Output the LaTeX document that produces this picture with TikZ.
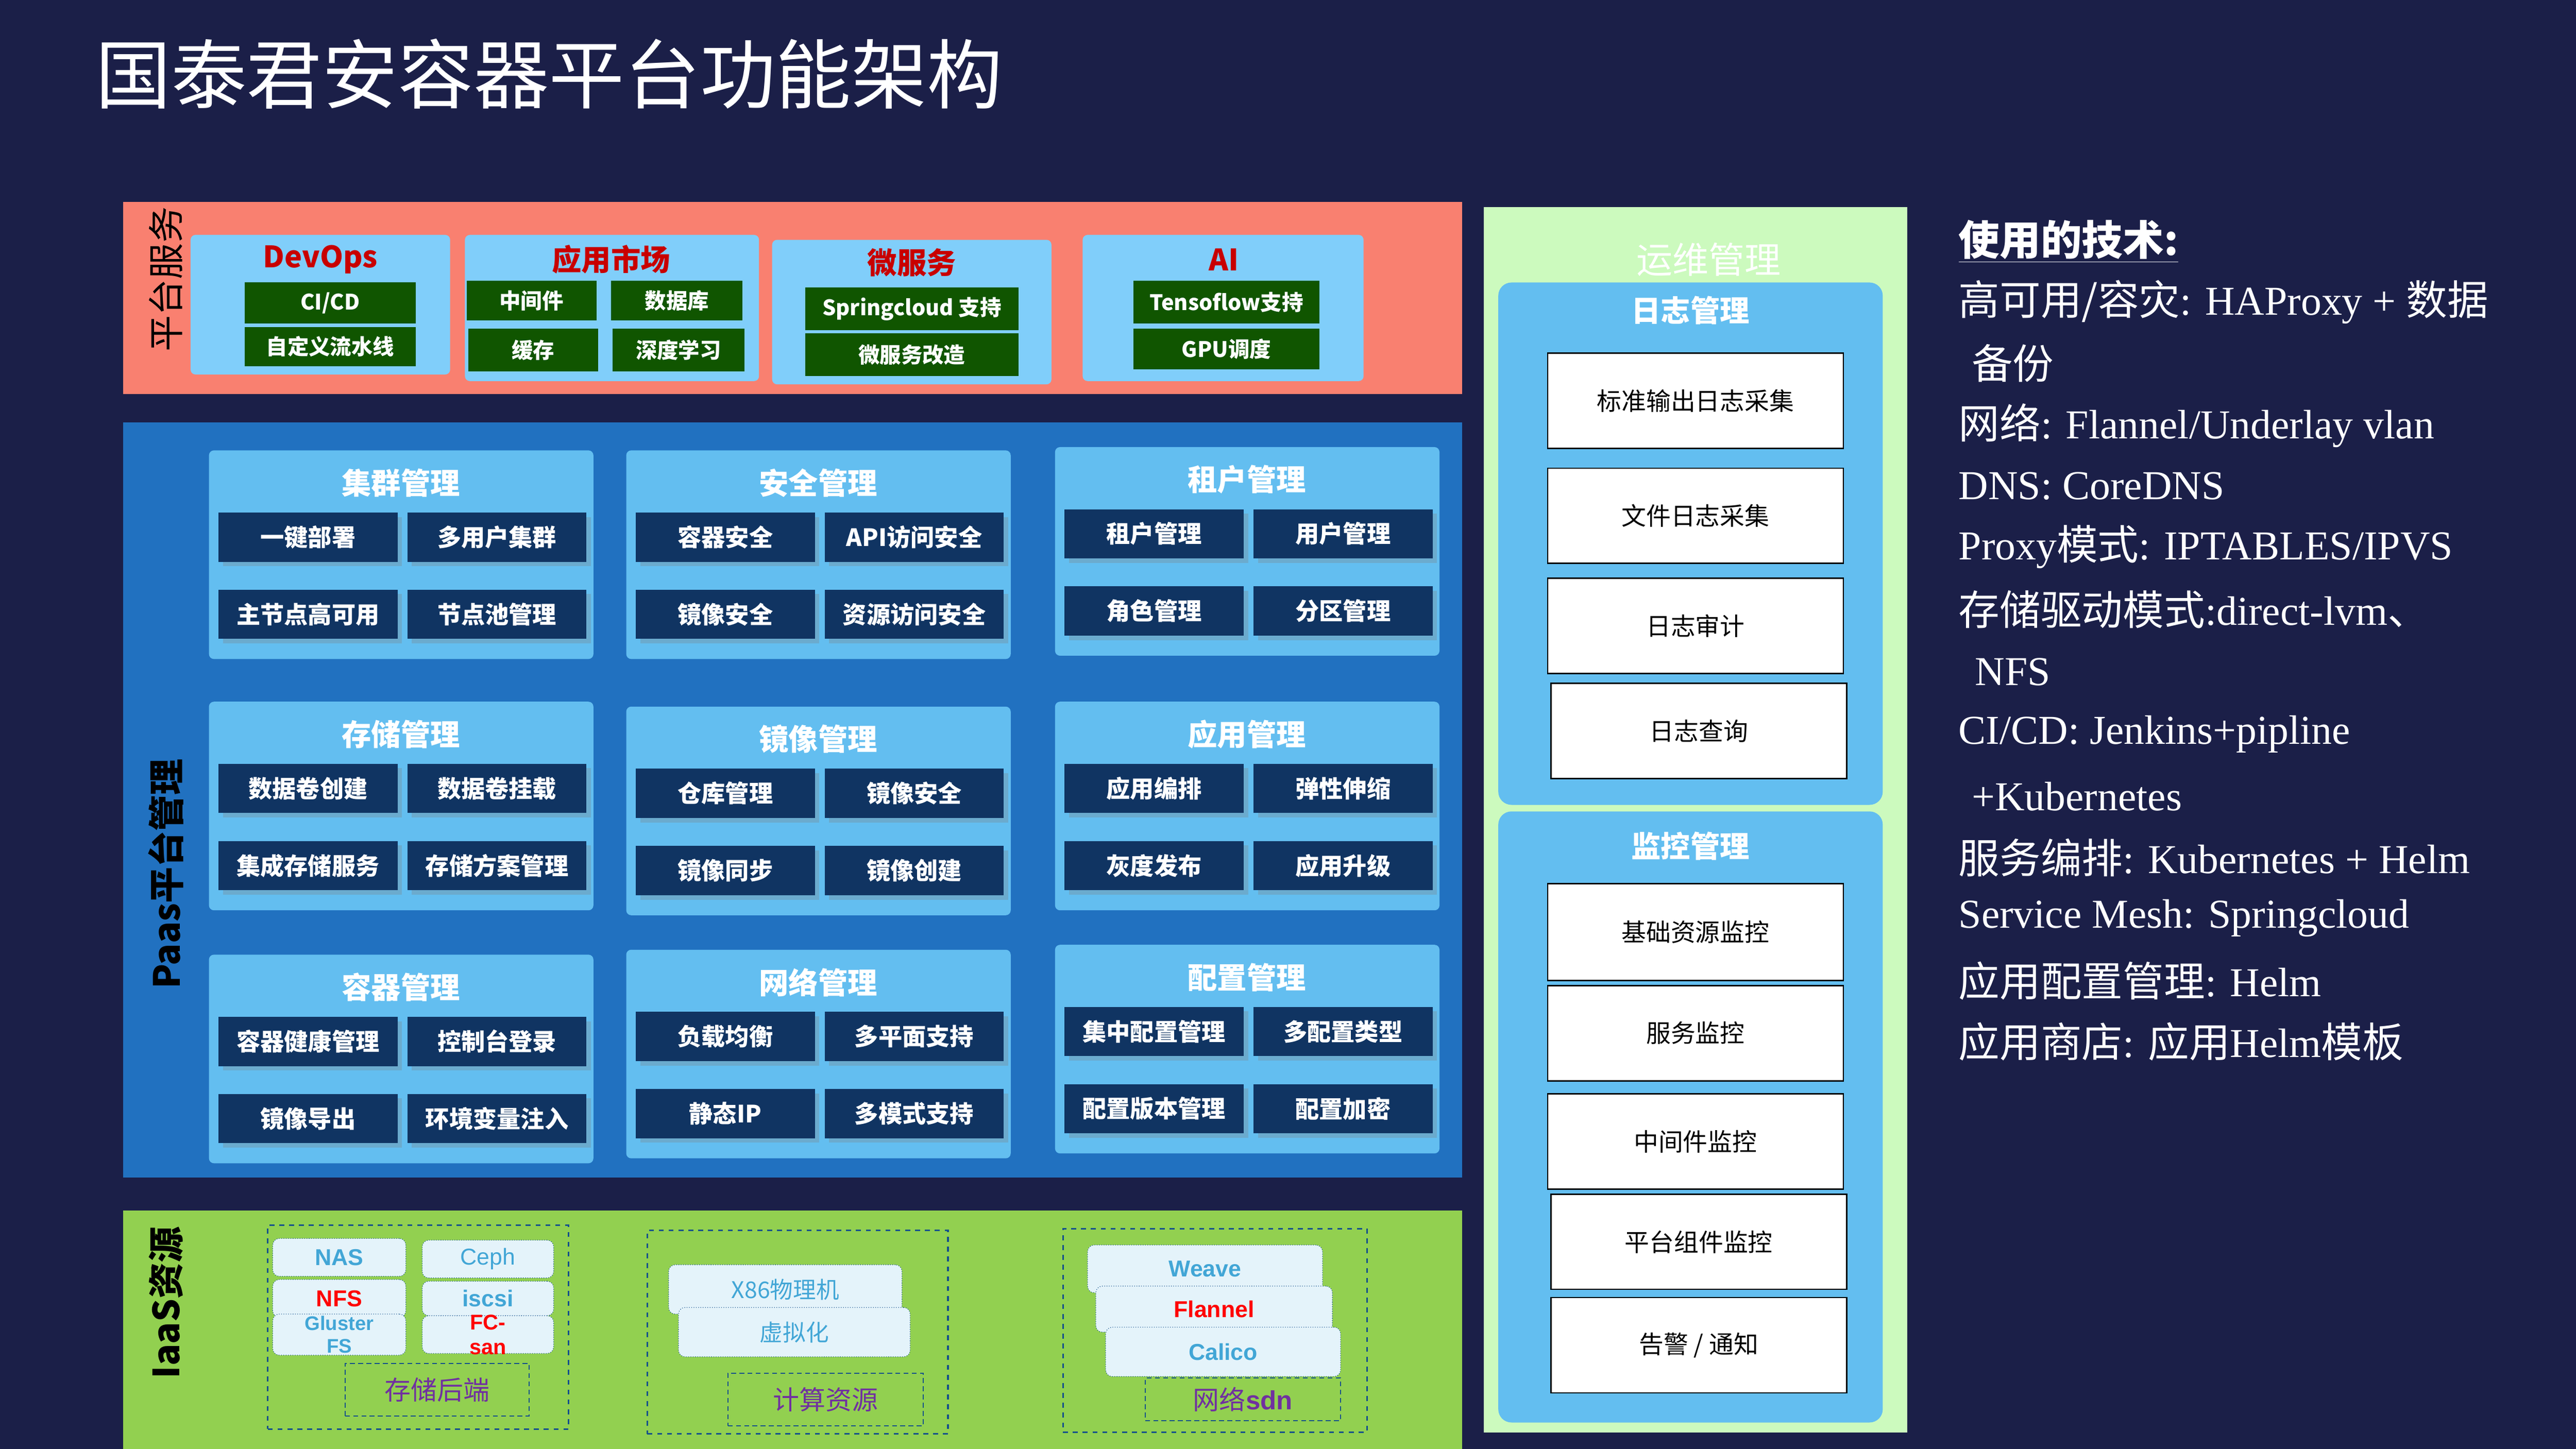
\documentclass[tikz,border=0pt]{standalone}
\usepackage{fontspec}
\setmainfont{Noto Sans CJK SC}
\newfontfamily\ser{Liberation Serif}
\newfontfamily\lsans{Liberation Sans}
\definecolor{bgc}{RGB}{27,31,72}
\definecolor{salm}{RGB}{249,128,112}
\definecolor{lblue}{RGB}{128,206,250}
\definecolor{dgreen}{RGB}{16,85,0}
\definecolor{paas}{RGB}{33,113,192}
\definecolor{pane}{RGB}{99,190,240}
\definecolor{navy}{RGB}{16,52,98}
\definecolor{iaas}{RGB}{146,208,80}
\definecolor{pale}{RGB}{228,243,250}
\definecolor{cyan2}{RGB}{66,166,214}
\definecolor{purp}{RGB}{112,48,160}
\definecolor{dred}{RGB}{200,0,0}
\definecolor{opsg}{RGB}{204,250,190}
\definecolor{dash}{RGB}{20,80,140}
\tikzset{
 gbtn/.style={fill=dgreen,text=white,font=\bfseries\fontsize{13}{15}\selectfont,inner sep=0},
 nbtn/.style={fill=navy,text=white,font=\bfseries\fontsize{14.5}{17}\selectfont,inner sep=0,drop shadow={opacity=0.3}},
 pbox/.style={fill=pale,rounded corners=4pt,inner sep=0,draw=dash,densely dotted,line width=0.4pt},
 wbox/.style={fill=white,draw=black,line width=0.8pt,font=\fontsize{15}{18}\selectfont,inner sep=0},
 dbox/.style={draw=dash,dashed,line width=1pt},
 rtxt/.style={anchor=west,text=white,font=\fontsize{25}{30}\selectfont,inner sep=0},
}
\usetikzlibrary{shadows}
\newcommand{\bx}[6]{\node[#1,minimum width=#4-#2,minimum height=#5-#3] (#6) at ({(#2+#4)/2},{(#3+#5)/2}) {};}
\newcommand{\bt}[7]{\node[#1,minimum width=#4-#2,minimum height=#5-#3] (#6) at ({(#2+#4)/2},{(#3+#5)/2}) {#7};}
\newcommand{\pan}[5]{% x, y, title, b1..b4 name prefix
}
\begin{document}
\begin{tikzpicture}[x=1pt,y=-1pt]
\useasboundingbox[fill=bgc] (0,0) rectangle (1568,882);
\node[anchor=west,text=white,font=\fontsize{46}{50}\selectfont,inner sep=0] (title) at (58,45) {国泰君安容器平台功能架构};
% platform services
\bx{fill=salm,inner sep=0}{75}{123}{890}{240}{ps}
\node[rotate=90,font=\fontsize{22}{24}\selectfont,inner sep=0] (psl) at (101,170) {平台服务};
\bx{fill=lblue,rounded corners=3pt,inner sep=0}{116}{143}{274}{228}{p1}
\bx{fill=lblue,rounded corners=3pt,inner sep=0}{283}{143}{462}{232}{p2}
\bx{fill=lblue,rounded corners=3pt,inner sep=0}{470}{146}{640}{234}{p3}
\bx{fill=lblue,rounded corners=3pt,inner sep=0}{659}{143}{830}{232}{p4}
\tikzset{htl/.style={text=dred,font=\bfseries\fontsize{18}{20}\selectfont,inner sep=0}}
\node[htl] (t1) at (195,158) {DevOps};
\node[htl] (t2) at (372,158) {应用市场};
\node[htl] (t3) at (555,160) {微服务};
\node[htl] (t4) at (745,158) {AI};
\bt{gbtn}{149}{172}{253}{197}{g1}{CI/CD}
\bt{gbtn}{149}{199}{253}{223}{g2}{自定义流水线}
\bt{gbtn}{284}{171}{363}{195}{g3}{中间件}
\bt{gbtn}{372}{171}{452}{195}{g4}{数据库}
\bt{gbtn}{285}{200}{364}{226}{g5}{缓存}
\bt{gbtn}{373}{200}{453}{226}{g6}{深度学习}
\bt{gbtn}{490}{175}{620}{201}{g7}{Springcloud 支持}
\bt{gbtn}{490}{203}{620}{229}{g8}{微服务改造}
\bt{gbtn}{690}{171}{803}{197}{g9}{Tensoflow支持}
\bt{gbtn}{690}{200}{803}{225}{g10}{GPU调度}
% PaaS
\bx{fill=paas,inner sep=0}{75}{257}{890}{717}{paasb}
\node[rotate=90,font=\bfseries\fontsize{22}{24}\selectfont,inner sep=0] (pal) at (101,532) {Paas平台管理};
\tikzset{ptl/.style={text=white,font=\bfseries\fontsize{18}{20}\selectfont,inner sep=0}}
\foreach \nm/\x/\y/\t/\a/\b/\c/\d in {
 a/127/274/集群管理/一键部署/多用户集群/主节点高可用/节点池管理,
 b/381/274/安全管理/容器安全/API访问安全/镜像安全/资源访问安全,
 c/642/272/租户管理/租户管理/用户管理/角色管理/分区管理,
 d/127/427/存储管理/数据卷创建/数据卷挂载/集成存储服务/存储方案管理,
 e/381/430/镜像管理/仓库管理/镜像安全/镜像同步/镜像创建,
 f/642/427/应用管理/应用编排/弹性伸缩/灰度发布/应用升级,
 g/127/581/容器管理/容器健康管理/控制台登录/镜像导出/环境变量注入,
 h/381/578/网络管理/负载均衡/多平面支持/静态IP/多模式支持,
 i/642/575/配置管理/集中配置管理/多配置类型/配置版本管理/配置加密}{
 \node[fill=pane,rounded corners=3pt,minimum width=234,minimum height=127,inner sep=0,anchor=north west] (pn\nm) at (\x,\y) {};
 \node[ptl] (pt\nm) at (\x+117,\y+20) {\t};
 \node[nbtn,minimum width=109,minimum height=30] (q1\nm) at (\x+60.5,\y+53) {\a};
 \node[nbtn,minimum width=109,minimum height=30] (q2\nm) at (\x+175.5,\y+53) {\b};
 \node[nbtn,minimum width=109,minimum height=30] (q3\nm) at (\x+60.5,\y+100) {\c};
 \node[nbtn,minimum width=109,minimum height=30] (q4\nm) at (\x+175.5,\y+100) {\d};
}
% IaaS
\bx{fill=iaas,inner sep=0}{75}{737}{890}{882}{iaasb}
\node[rotate=90,font=\bfseries\fontsize{22}{24}\selectfont,inner sep=0] (ial) at (101,793) {IaaS资源};
\bx{dbox}{163}{746}{346}{870}{d1}
\bx{dbox}{394}{749}{577}{873}{d2}
\bx{dbox}{647}{748}{832}{872}{d3}
\tikzset{ct/.style={text=cyan2,font=\lsans\bfseries\fontsize{14}{14}\selectfont},
 rt/.style={text=red,font=\lsans\bfseries\fontsize{14}{14}\selectfont},
 lt/.style={text=cyan2,font=\fontsize{14}{14}\selectfont}}
\bt{pbox}{166}{754}{247}{777}{s1}{\tikzset{}\textcolor{cyan2}{\lsans\bfseries\fontsize{14}{14}\selectfont NAS}}
\bt{pbox}{257}{755}{337}{778}{s2}{\textcolor{cyan2}{\lsans\fontsize{14}{14}\selectfont Ceph}}
\bt{pbox}{166}{779}{247}{802}{s3}{\textcolor{red}{\lsans\bfseries\fontsize{14}{14}\selectfont NFS}}
\bt{pbox}{257}{780}{337}{801}{s4}{\textcolor{cyan2}{\lsans\bfseries\fontsize{14}{14}\selectfont iscsi}}
\bt{pbox}{166}{800}{247}{825}{s5}{}
\bt{pbox}{257}{801}{337}{824}{s6}{}
\node[text=cyan2,font=\lsans\bfseries\fontsize{12}{14}\selectfont,align=center,inner sep=0] (s5t) at (s5.center) {Gluster\\FS};
\node[text=red,font=\lsans\bfseries\fontsize{13}{15}\selectfont,align=center,inner sep=0] (s6t) at (s6.center) {FC-\\san};
\bt{draw=dash,densely dashed,line width=0.6pt,text=purp,font=\fontsize{16}{18}\selectfont,inner sep=0}{210}{830}{322}{862}{s7}{存储后端}
\bt{pbox}{407}{770}{549}{800}{c1}{\textcolor{cyan2}{\fontsize{14}{14}\selectfont X86物理机}}
\bt{pbox}{413}{796}{554}{826}{c2}{\textcolor{cyan2}{\fontsize{14}{14}\selectfont 虚拟化}}
\bt{draw=dash,densely dashed,line width=0.6pt,text=purp,font=\fontsize{16}{18}\selectfont,inner sep=0}{443}{836}{562}{868}{c3}{计算资源}
\bt{pbox}{662}{758}{805}{787}{n1}{\textcolor{cyan2}{\lsans\bfseries\fontsize{14}{14}\selectfont Weave}}
\bt{pbox}{667}{783}{811}{811}{n2}{\textcolor{red}{\lsans\bfseries\fontsize{14}{14}\selectfont Flannel}}
\bt{pbox}{673}{808}{816}{838}{n3}{\textcolor{cyan2}{\lsans\bfseries\fontsize{14}{14}\selectfont Calico}}
\bt{draw=dash,densely dashed,line width=0.6pt,text=purp,font=\fontsize{16}{18}\selectfont,inner sep=0}{697}{839}{816}{865}{n4}{网络\textbf{\lsans sdn}}
% Ops
\bx{fill=opsg,inner sep=0}{903}{126}{1161}{872}{ops}
\node[text=white,font=\fontsize{22}{24}\selectfont,inner sep=0] (opst) at (1040,158) {运维管理};
\bx{fill=pane,rounded corners=8pt,inner sep=0}{912}{172}{1146}{490}{logp}
\bx{fill=pane,rounded corners=8pt,inner sep=0}{912}{494}{1146}{866}{monp}
\node[ptl] (logt) at (1029,189) {日志管理};
\node[ptl] (mont) at (1029,515) {监控管理};
\bt{wbox}{942}{215}{1122}{273}{w1}{标准输出日志采集}
\bt{wbox}{942}{285}{1122}{343}{w2}{文件日志采集}
\bt{wbox}{942}{352}{1122}{410}{w3}{日志审计}
\bt{wbox}{944}{416}{1124}{474}{w4}{日志查询}
\bt{wbox}{942}{538}{1122}{597}{w5}{基础资源监控}
\bt{wbox}{942}{600}{1122}{658}{w6}{服务监控}
\bt{wbox}{942}{666}{1122}{724}{w7}{中间件监控}
\bt{wbox}{944}{727}{1124}{785}{w8}{平台组件监控}
\bt{wbox}{944}{790}{1124}{848}{w9}{告警 / 通知}
% right text
\node[rtxt,font=\bfseries\fontsize{25}{30}\selectfont] (r0) at (1192,147) {\underline{使用的技术:}};
\node[rtxt] (r1) at (1192,184) {高可用/容灾{\ser: HAProxy + }数据};
\node[rtxt] (r2) at (1200,221) {备份};
\node[rtxt] (r3) at (1192,259) {网络{\ser: Flannel/Underlay vlan}};
\node[rtxt] (r4) at (1192,296) {\ser DNS: CoreDNS};
\node[rtxt] (r5) at (1192,333) {{\ser Proxy}模式{\ser: IPTABLES/IPVS}};
\node[rtxt] (r6) at (1192,371) {存储驱动模式{\ser:direct-lvm}、};
\node[rtxt] (r7) at (1202,409) {\ser NFS};
\node[rtxt] (r8) at (1192,447) {\ser CI/CD: Jenkins+pipline};
\node[rtxt] (r9) at (1200,485) {\ser +Kubernetes};
\node[rtxt] (r10) at (1192,522) {服务编排{\ser: Kubernetes + Helm}};
\node[rtxt] (r11) at (1192,559) {\ser Service Mesh: Springcloud};
\node[rtxt] (r12) at (1192,597) {应用配置管理{\ser: Helm}};
\node[rtxt] (r13) at (1192,634) {应用商店{\ser: }应用{\ser Helm}模板};
\end{tikzpicture}
\end{document}
